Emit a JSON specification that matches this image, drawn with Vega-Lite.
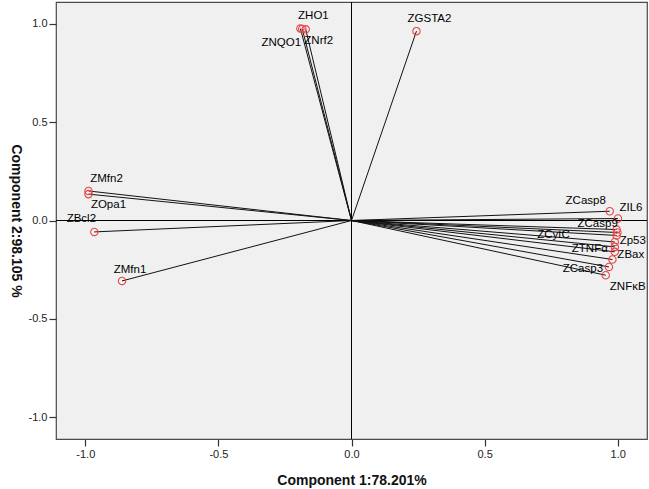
{
  "$schema": "https://vega.github.io/schema/vega-lite/v6.json",
  "autosize": "none",
  "width": 591,
  "height": 437,
  "padding": {"left": 56, "top": 2, "right": 2, "bottom": 50},
  "background": "white",
  "config": {
    "view": {"fill": "#f0f0f0", "stroke": "#4a4a4a", "strokeWidth": 1.2},
    "font": "Liberation Sans",
    "axis": {
      "grid": false,
      "domain": false,
      "tickColor": "#333333",
      "tickSize": 7,
      "tickWidth": 1.2,
      "labelFont": "Liberation Sans",
      "labelFontSize": 11,
      "labelColor": "#222222",
      "labelPadding": 2,
      "titleFont": "Liberation Sans",
      "titleFontSize": 14,
      "titleFontWeight": "bold",
      "titleColor": "#111111"
    }
  },
  "data": {
    "values": [
      {"name": "ZHO1", "x": -0.192, "y": 0.975},
      {"name": "ZNQO1", "x": -0.185, "y": 0.973},
      {"name": "ZNrf2", "x": -0.172, "y": 0.971},
      {"name": "ZGSTA2", "x": 0.244, "y": 0.962},
      {"name": "ZMfn2", "x": -0.988, "y": 0.150},
      {"name": "ZOpa1", "x": -0.988, "y": 0.134},
      {"name": "ZBcl2", "x": -0.966, "y": -0.058},
      {"name": "ZMfn1", "x": -0.862, "y": -0.307},
      {"name": "ZCasp8", "x": 0.970, "y": 0.047},
      {"name": "ZIL6", "x": 1.001, "y": 0.010},
      {"name": "ZCasp9", "x": 0.996, "y": -0.046},
      {"name": "ZCytC", "x": 0.999, "y": -0.061},
      {"name": "", "x": 0.996, "y": -0.076},
      {"name": "Zp53", "x": 0.989, "y": -0.109},
      {"name": "ZTNFα", "x": 0.989, "y": -0.134},
      {"name": "ZBax", "x": 0.989, "y": -0.159},
      {"name": " ", "x": 0.980, "y": -0.198},
      {"name": "ZCasp3", "x": 0.967, "y": -0.236},
      {"name": "ZNFκB", "x": 0.955, "y": -0.278}
    ]
  },
  "layer": [
    {
      "mark": {"type": "rule", "color": "#000000", "strokeWidth": 1},
      "encoding": {
        "y": {
          "datum": 0,
          "type": "quantitative",
          "scale": {"domain": [-1.11, 1.11], "nice": false, "zero": false},
          "axis": {
            "title": "Component 2:98.105 %",
            "titleAngle": 90,
            "titlePadding": 20,
            "values": [-1, -0.5, 0, 0.5, 1],
            "labelExpr": "datum.value < 0 ? '-' + format(-datum.value, '.1f') : format(datum.value, '.1f')"
          }
        }
      }
    },
    {
      "mark": {"type": "rule", "color": "#000000", "strokeWidth": 1},
      "encoding": {
        "x": {
          "datum": 0,
          "type": "quantitative",
          "scale": {"domain": [-1.11, 1.11], "nice": false, "zero": false},
          "axis": {
            "title": "Component 1:78.201%",
            "titlePadding": 14,
            "values": [-1, -0.5, 0, 0.5, 1],
            "labelExpr": "datum.value < 0 ? '-' + format(-datum.value, '.1f') : format(datum.value, '.1f')"
          }
        }
      }
    },
    {
      "mark": {"type": "rule", "color": "#111111", "strokeWidth": 1},
      "encoding": {
        "x": {"field": "x", "type": "quantitative"},
        "y": {"field": "y", "type": "quantitative"},
        "x2": {"datum": 0},
        "y2": {"datum": 0}
      }
    },
    {
      "mark": {"type": "point", "filled": false, "color": "#e8464a", "size": 55, "strokeWidth": 1.1, "opacity": 1},
      "encoding": {
        "x": {"field": "x", "type": "quantitative"},
        "y": {"field": "y", "type": "quantitative"}
      }
    },
    {
      "encoding": {
        "x": {"field": "x", "type": "quantitative"},
        "y": {"field": "y", "type": "quantitative"},
        "text": {"field": "name"}
      },
      "layer": [
        {"transform": [{"filter": "datum.name === 'ZHO1'"}], "mark": {"type": "text", "fontSize": 11.5, "color": "#000", "baseline": "middle", "dx": 13, "dy": -13}},
        {"transform": [{"filter": "datum.name === 'ZNQO1'"}], "mark": {"type": "text", "fontSize": 11.5, "color": "#000", "baseline": "middle", "dx": -21, "dy": 14}},
        {"transform": [{"filter": "datum.name === 'ZNrf2'"}], "mark": {"type": "text", "fontSize": 11.5, "color": "#000", "baseline": "middle", "dx": 13, "dy": 12}},
        {"transform": [{"filter": "datum.name === 'ZGSTA2'"}], "mark": {"type": "text", "fontSize": 11.5, "color": "#000", "baseline": "middle", "dx": 13, "dy": -12}},
        {"transform": [{"filter": "datum.name === 'ZMfn2'"}], "mark": {"type": "text", "fontSize": 11.5, "color": "#000", "baseline": "middle", "dx": 18, "dy": -12}},
        {"transform": [{"filter": "datum.name === 'ZOpa1'"}], "mark": {"type": "text", "fontSize": 11.5, "color": "#000", "baseline": "middle", "dx": 20, "dy": 11}},
        {"transform": [{"filter": "datum.name === 'ZBcl2'"}], "mark": {"type": "text", "fontSize": 11.5, "color": "#000", "baseline": "middle", "dx": -13, "dy": -13}},
        {"transform": [{"filter": "datum.name === 'ZMfn1'"}], "mark": {"type": "text", "fontSize": 11.5, "color": "#000", "baseline": "middle", "dx": 8, "dy": -11}},
        {"transform": [{"filter": "datum.name === 'ZCasp8'"}], "mark": {"type": "text", "fontSize": 11.5, "color": "#000", "baseline": "middle", "dx": -24, "dy": -10}},
        {"transform": [{"filter": "datum.name === 'ZIL6'"}], "mark": {"type": "text", "fontSize": 11.5, "color": "#000", "baseline": "middle", "dx": 13, "dy": -11}},
        {"transform": [{"filter": "datum.name === 'ZCasp9'"}], "mark": {"type": "text", "fontSize": 11.5, "color": "#000", "baseline": "middle", "dx": -19, "dy": -6}},
        {"transform": [{"filter": "datum.name === 'ZCytC'"}], "mark": {"type": "text", "fontSize": 11.5, "color": "#000", "baseline": "middle", "dx": -64, "dy": 2}},
        {"transform": [{"filter": "datum.name === 'Zp53'"}], "mark": {"type": "text", "fontSize": 11.5, "color": "#000", "baseline": "middle", "dx": 18, "dy": -1}},
        {"transform": [{"filter": "datum.name === 'ZTNFα'"}], "mark": {"type": "text", "fontSize": 11.5, "color": "#000", "baseline": "middle", "dx": -25, "dy": 2}},
        {"transform": [{"filter": "datum.name === 'ZBax'"}], "mark": {"type": "text", "fontSize": 11.5, "color": "#000", "baseline": "middle", "dx": 16, "dy": 3}},
        {"transform": [{"filter": "datum.name === 'ZCasp3'"}], "mark": {"type": "text", "fontSize": 11.5, "color": "#000", "baseline": "middle", "dx": -26, "dy": 2}},
        {"transform": [{"filter": "datum.name === 'ZNFκB'"}], "mark": {"type": "text", "fontSize": 11.5, "color": "#000", "baseline": "middle", "dx": 22, "dy": 12}}
      ]
    }
  ]
}
